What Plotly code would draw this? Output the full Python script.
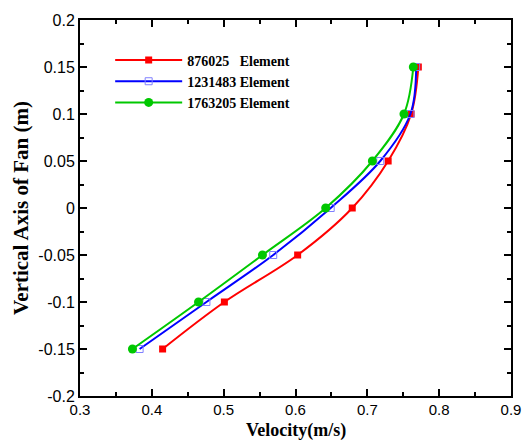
import plotly.graph_objects as go

y_vals = [-0.15, -0.1, -0.05, 0.0, 0.05, 0.1, 0.15]
v_876025 = [0.415, 0.501, 0.603, 0.679, 0.729, 0.761, 0.771]
v_1231483 = [0.383, 0.476, 0.569, 0.649, 0.718, 0.760, 0.768]
v_1763205 = [0.373, 0.465, 0.554, 0.642, 0.707, 0.751, 0.764]
names = ["876025   Element", "1231483 Element", "1763205 Element"]

fig = go.Figure()
fig.add_trace(go.Scatter(x=v_876025, y=y_vals, name=names[0], mode="lines+markers",
                         line=dict(color="#ff0000", width=2, shape="spline"),
                         marker=dict(symbol="square", size=7, color="#ff0000")))
fig.add_trace(go.Scatter(x=v_1231483, y=y_vals, name=names[1], mode="lines+markers",
                         line=dict(color="#0000ff", width=2, shape="spline"),
                         marker=dict(symbol="square-open", size=7, color="#8080ff",
                                     line=dict(width=1, color="#8080ff"))))
fig.add_trace(go.Scatter(x=v_1763205, y=y_vals, name=names[2], mode="lines+markers",
                         line=dict(color="#00c800", width=2, shape="spline"),
                         marker=dict(symbol="circle", size=9, color="#00c800")))

axis_common = dict(showgrid=False, zeroline=False, showline=True, linecolor="black",
                   linewidth=2, mirror="allticks", ticks="inside", ticklen=7,
                   tickwidth=1.5, tickcolor="black", automargin=False,
                   ticklabeloverflow="allow")
fig.update_xaxes(range=[0.3, 0.9], dtick=0.1, tickformat=".1f",
                 minor=dict(dtick=0.05, ticks="inside", ticklen=4, tickcolor="black"),
                 tickfont=dict(family="Liberation Sans, Arial", size=15, color="black"),
                 ticklabelstandoff=-1,
                 **axis_common)
fig.update_yaxes(range=[-0.2, 0.2], tickvals=[-0.2, -0.15, -0.1, -0.05, 0, 0.05, 0.1, 0.15, 0.2],
                 ticktext=["-0.2", "-0.15", "-0.1", "-0.05", "0", "0.05", "0.1", "0.15", "0.2"],
                 minor=dict(dtick=0.025, ticks="inside", ticklen=4, tickcolor="black"),
                 tickfont=dict(family="Liberation Sans, Arial", size=16, color="black"),
                 title=dict(text="<b>Vertical Axis of Fan (m)</b>", standoff=4,
                            font=dict(family="Liberation Serif, Times New Roman", size=21, color="black")),
                 **axis_common)

fig.add_annotation(text="<b>Velocity(m/s)</b>", xref="paper", yref="paper",
                   x=0.5, y=-0.06, xanchor="center", yanchor="top", showarrow=False,
                   borderpad=0,
                   font=dict(family="Liberation Serif, Times New Roman", size=18, color="black"))

fig.update_layout(width=522, height=441, margin=dict(l=80, r=11, t=20, b=45),
                  plot_bgcolor="white", paper_bgcolor="white",
                  legend=dict(x=0.07, y=0.935, xanchor="left", yanchor="top",
                              bgcolor="rgba(0,0,0,0)", itemwidth=67, tracegroupgap=0,
                              font=dict(family="Liberation Serif, Times New Roman", size=14, color="black")),
                  showlegend=True)
for tr in fig.data:
    tr.name = "<b>" + tr.name.replace(" ", "&nbsp;") + "</b>"

fig.write_html("out.html")
